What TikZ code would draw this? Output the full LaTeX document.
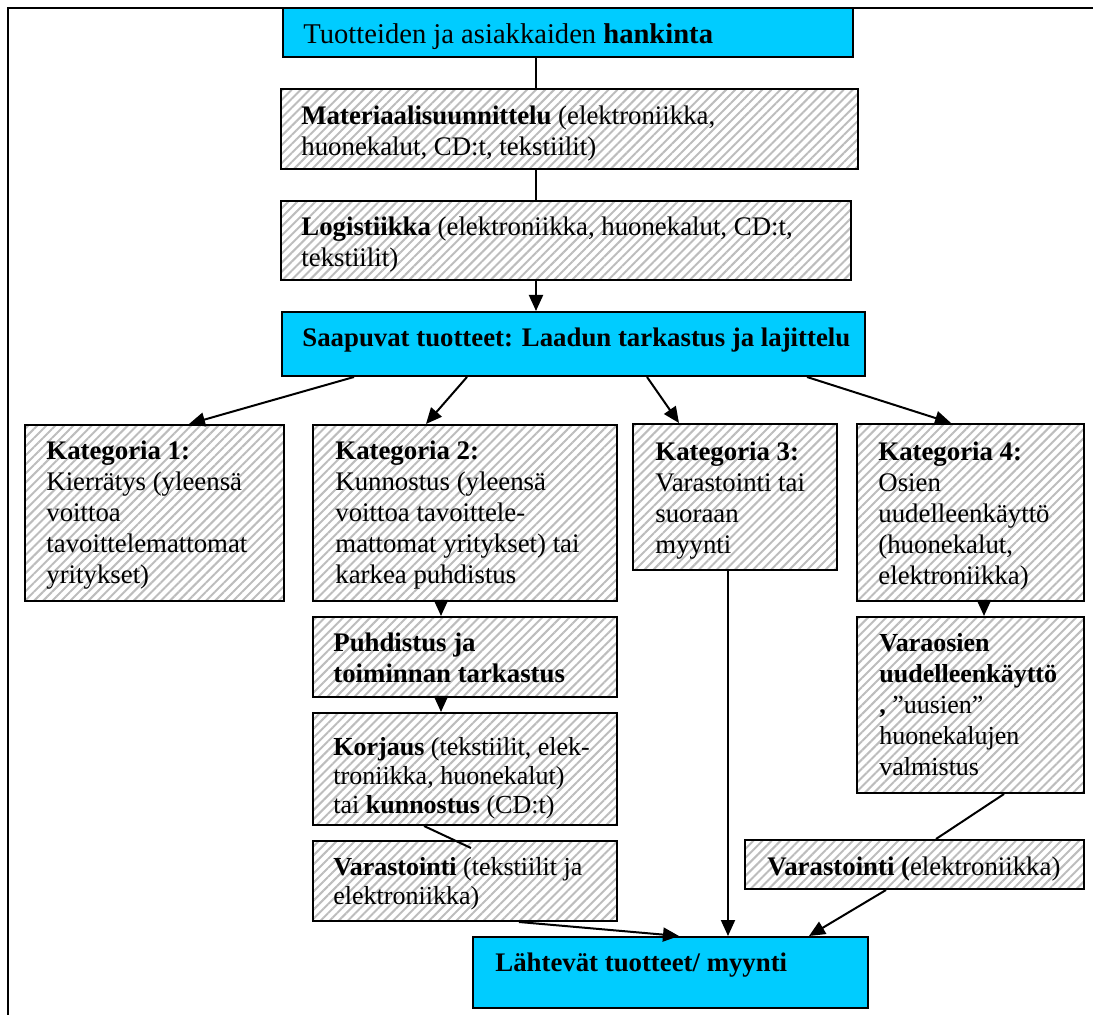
\documentclass[tikz,border=0pt]{standalone}
\usepackage{fontspec}
\setmainfont{Liberation Serif}
\usetikzlibrary{arrows.meta,patterns.meta,calc}
\definecolor{skyc}{RGB}{0,204,255}
\newcommand\pxbox[6]{%
  \node[#6, minimum width={(#4-#2)*0.5pt}, minimum height={(#5-#3)*0.5pt}] (#1) at ({(#2+#4)/2},{(#3+#5)/2}) {};}
\newcommand\boxlines[1]{\begin{tabular}[t]{@{}l@{}}#1\end{tabular}}
\tikzset{
  boxbase/.style={draw, line width=1pt, inner sep=0pt, rectangle},
  hbox/.style={boxbase, pattern={Lines[angle=45,distance=3.2pt,line width=1pt]}, pattern color=black!26},
  cbox/.style={boxbase, fill=skyc},
  txt/.style={anchor=base west, inner sep=0pt, font=\fontsize{13.4}{15.5}\selectfont},
  txtb/.style={txt, font=\fontsize{13}{14.5}\selectfont},
  txttop/.style={txt, font=\fontsize{14.3}{16}\selectfont},
  conn/.style={line width=1pt},
  arr/.style={conn, -{Triangle[length=8pt,width=7pt]}},
  frame/.style={line width=1.1pt},
}
\begin{document}
\begin{tikzpicture}[x=0.5pt,y=-0.5pt]
\useasboundingbox (0,0) rectangle (1093,1015);
% boxes
\pxbox{t}{283}{8}{853}{57}{cbox}
\pxbox{m}{281}{89}{858}{169}{hbox}
\pxbox{l}{281}{201}{851}{280}{hbox}
\pxbox{sa}{282}{312}{865}{376}{cbox}
\pxbox{k1}{25}{425}{284}{601}{hbox}
\pxbox{k2}{313}{425}{617}{601}{hbox}
\pxbox{k3}{633}{424}{837}{570}{hbox}
\pxbox{k4}{857}{424}{1084}{601}{hbox}
\pxbox{pu}{313}{617}{617}{697}{hbox}
\pxbox{ko}{313}{713}{617}{825}{hbox}
\pxbox{va}{313}{841}{617}{921}{hbox}
\pxbox{vo}{857}{617}{1084}{793}{hbox}
\pxbox{ve}{745}{840}{1084}{889}{hbox}
\pxbox{lh}{473}{937}{868}{1008}{cbox}
% frame
\coordinate (fTL) at (8,8);
\coordinate (fTR) at (1093,8);
\coordinate (fBL) at (8,1015);
\draw[frame] (fTR) -- (fTL) -- (fBL);
% texts
\node[txttop] (tt) at (303,44) {Tuotteiden ja asiakkaiden \textbf{hankinta}};
\node[txt] (mt) at (301,125) {\boxlines{\textbf{Materiaalisuunnittelu} (elektroniikka,\\huonekalut, CD:t, tekstiilit)}};
\node[txt] (lt) at (301,236) {\boxlines{\textbf{Logistiikka} (elektroniikka, huonekalut, CD:t,\\tekstiilit)}};
\node[txt] (sat) at (302,347) {\textbf{Saapuvat tuotteet: Laadun tarkastus ja lajittelu}};
\node[txt] (k1t) at (46,460) {\boxlines{\textbf{Kategoria 1:}\\Kierrätys (yleensä\\voittoa\\tavoittelemattomat\\yritykset)}};
\node[txt] (k2t) at (335,460) {\boxlines{\textbf{Kategoria 2:}\\Kunnostus (yleensä\\voittoa tavoittele-\\mattomat yritykset) tai\\karkea puhdistus}};
\node[txt] (k3t) at (655,461) {\boxlines{\textbf{Kategoria 3:}\\Varastointi tai\\suoraan\\myynti}};
\node[txt] (k4t) at (878,461) {\boxlines{\textbf{Kategoria 4:}\\Osien\\uudelleenkäyttö\\(huonekalut,\\elektroniikka)}};
\node[txt] (put) at (333,652) {\boxlines{\textbf{Puhdistus ja}\\\textbf{toiminnan tarkastus}}};
\node[txtb] (kot) at (333,755) {\boxlines{\textbf{Korjaus} (tekstiilit, elek-\\troniikka, huonekalut)\\tai \textbf{kunnostus} (CD:t)}};
\node[txtb] (vat) at (333,875) {\boxlines{\textbf{Varastointi} (tekstiilit ja\\elektroniikka)}};
\node[txtb] (vot) at (879,652) {\boxlines{\textbf{Varaosien}\\[1pt]\textbf{uudelleenkäyttö}\\[1pt]\textbf{,} ”uusien”\\[1pt]huonekalujen\\[1pt]valmistus}};
\node[txt] (vet) at (767,875) {\textbf{Varastointi (}elektroniikka)};
\node[txt] (lht) at (495,971) {\textbf{Lähtevät tuotteet/ myynti}};
% connectors
\draw[conn] ($(t.south west)+(254,0)$) -- ($(m.north west)+(256,0)$);
\draw[conn] ($(m.south west)+(256,0)$) -- ($(l.north west)+(256,0)$);
\draw[arr] ($(l.south west)+(256,0)$) -- ($(sa.north west)+(255,0)$);
\draw[arr] ($(sa.south west)+(73,0)$) -- ($(k1.north west)+(165,0)$);
\draw[arr] ($(sa.south west)+(186,0)$) -- ($(k2.north west)+(114,0)$);
\draw[arr] ($(sa.south west)+(366,0)$) -- ($(k3.north west)+(47,0)$);
\draw[arr] ($(sa.south west)+(526,0)$) -- ($(k4.north west)+(95,0)$);
\draw[arr] ($(k2.south west)+(129,0)$) -- ($(pu.north west)+(129,0)$);
\draw[arr] ($(pu.south west)+(129,0)$) -- ($(ko.north west)+(129,0)$);
\draw[conn] ($(ko.south west)+(112,0)$) -- ($(va.north west)+(159,8)$);
\draw[arr] ($(k4.south west)+(128,0)$) -- ($(vo.north west)+(128,0)$);
\draw[conn] ($(vo.south west)+(148,0)$) -- ($(ve.north west)+(192,0)$);
\draw[arr] ($(va.south west)+(207,0)$) -- ($(lh.north west)+(207,0)$);
\draw[arr] ($(k3.south west)+(96,0)$) -- ($(lh.north west)+(256,0)$);
\draw[arr] ($(ve.south west)+(142,0)$) -- ($(lh.north west)+(337,0)$);
\end{tikzpicture}
\end{document}
